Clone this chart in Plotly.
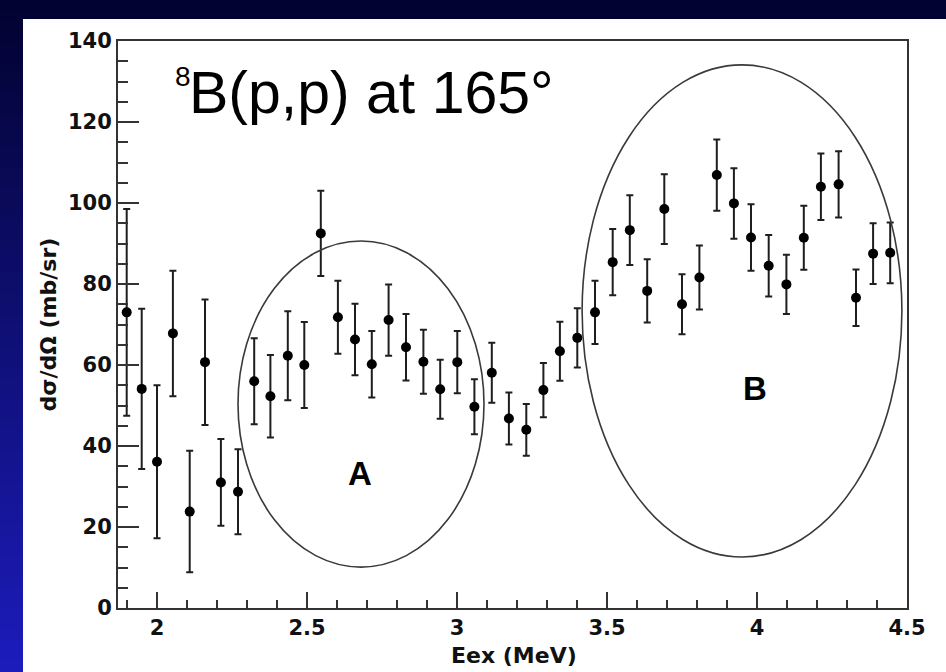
import plotly.graph_objects as go

# Excitation energy (MeV), differential cross section (mb/sr) and its uncertainty
energy_mev = [
    1.899, 1.949, 2.000, 2.053, 2.109, 2.160, 2.213, 2.270, 2.324, 2.378,
    2.436, 2.491, 2.546, 2.603, 2.660, 2.716, 2.772, 2.830, 2.888, 2.944,
    3.001, 3.058, 3.116, 3.173, 3.231, 3.288, 3.343, 3.401, 3.460, 3.519,
    3.576, 3.634, 3.691, 3.750, 3.808, 3.866, 3.923, 3.980, 4.039, 4.098,
    4.156, 4.213, 4.272, 4.330, 4.387, 4.444,
]
cross_section = [
    73.0, 54.1, 36.1, 67.8, 23.8, 60.7, 31.0, 28.7, 56.0, 52.3,
    62.3, 60.0, 92.5, 71.8, 66.3, 60.2, 71.1, 64.4, 60.8, 54.0,
    60.7, 49.7, 58.1, 46.8, 44.0, 53.8, 63.4, 66.7, 73.0, 85.4,
    93.3, 78.3, 98.5, 75.0, 81.6, 106.9, 99.9, 91.5, 84.5, 79.9,
    91.4, 104.0, 104.6, 76.6, 87.5, 87.7,
]
cross_section_err = [
    25.5, 19.8, 18.9, 15.5, 15.0, 15.5, 10.7, 10.5, 10.6, 10.2,
    11.0, 10.6, 10.5, 9.0, 8.8, 8.2, 8.8, 8.2, 7.9, 7.3,
    7.7, 6.8, 7.4, 6.4, 6.4, 6.7, 7.3, 7.3, 7.8, 8.2,
    8.6, 7.8, 8.6, 7.4, 7.9, 8.8, 8.7, 8.2, 7.6, 7.3,
    7.9, 8.2, 8.2, 7.0, 7.5, 7.5,
]

# Resonance regions (energy span, cross-section span) and their labels
region_names = ["A", "B"]
region_e = [(2.27, 3.09), (3.417, 4.483)]
region_cs = [(10.1, 90.6), (12.6, 134.1)]
region_label_pos = [(2.677, 33.3), (3.993, 54.3)]

W, H = 946, 672
ML, MR, MT, MB = 118, 39, 41, 64
PW = W - ML - MR
PH = H - MT - MB


def px_x(px):
    return (px - ML) / PW


def px_y(py):
    return (H - MB - py) / PH


shapes = []

# slide background: vertical navy-to-blue gradient
n_bands = 64
for i in range(n_bands):
    t = (i + 0.5) / n_bands
    top = i * H / n_bands - 0.6
    bot = (i + 1) * H / n_bands + 0.6
    col = f"rgb({round(2 + 26 * t)},{round(2 + 26 * t)},{round(48 + 140 * t)})"
    shapes.append(dict(type="rect", xref="paper", yref="paper",
                       x0=px_x(-2), x1=px_x(W + 2), y0=px_y(bot), y1=px_y(top),
                       fillcolor=col, line_width=0, layer="below"))

# white plot panel
shapes.append(dict(type="rect", xref="paper", yref="paper",
                   x0=px_x(23), x1=px_x(W + 4), y0=px_y(H + 4), y1=px_y(19),
                   fillcolor="white", line_width=0, layer="below"))

# ellipses around the regions
for (e0, e1), (c0, c1) in zip(region_e, region_cs):
    shapes.append(dict(type="circle", xref="x", yref="y",
                       x0=e0, x1=e1, y0=c0, y1=c1,
                       line=dict(color="#3a3a3a", width=1.6), layer="above"))

fig = go.Figure()
fig.add_trace(go.Scatter(
    x=energy_mev, y=cross_section, mode="markers",
    marker=dict(size=10, color="black"),
    error_y=dict(type="data", array=cross_section_err, color="#1e1e1e",
                 thickness=2, width=3.5),
    showlegend=False, hoverinfo="skip",
))

tick_font = dict(family="DejaVu Sans", size=21, color="#111", weight="bold")

annotations = [
    dict(text="8", xref="paper", yref="paper", x=px_x(173), y=px_y(59),
         xanchor="left", yanchor="top", showarrow=False,
         font=dict(family="Liberation Sans", size=28, color="black")),
    dict(text="B(p,p) at 165°", xref="paper", yref="paper", x=px_x(187), y=px_y(58),
         xanchor="left", yanchor="top", showarrow=False,
         font=dict(family="Liberation Sans", size=59, color="black")),
    dict(text="dσ/dΩ (mb/sr)", xref="paper", yref="paper", x=px_x(48), y=0.5,
         xanchor="center", yanchor="middle", textangle=-90, showarrow=False,
         font=dict(family="DejaVu Sans", size=22, color="#111", weight="bold")),
    dict(text="Eex (MeV)", xref="paper", yref="paper", x=px_x(514), y=px_y(655),
         xanchor="center", yanchor="middle", showarrow=False,
         font=dict(family="DejaVu Sans", size=22, color="#111", weight="bold")),
]
for name, (lx, ly) in zip(region_names, region_label_pos):
    annotations.append(dict(text=name, xref="x", yref="y", x=lx, y=ly,
                            xanchor="center", yanchor="middle", showarrow=False,
                            font=dict(family="Liberation Sans", size=33,
                                      color="black", weight="bold")))

fig.update_layout(
    width=W, height=H,
    margin=dict(l=ML, r=MR, t=MT, b=MB, pad=0),
    paper_bgcolor="rgb(4,4,60)",
    plot_bgcolor="rgba(0,0,0,0)",
    shapes=shapes,
    annotations=annotations,
    xaxis=dict(
        range=[1.87, 4.5], tickmode="linear", tick0=0, dtick=0.5,
        ticks="inside", ticklen=16, tickwidth=2, tickcolor="#333",
        minor=dict(dtick=0.1, tick0=0, ticks="inside", ticklen=8,
                   tickwidth=1.5, tickcolor="#333", showgrid=False),
        showline=True, linecolor="#333", linewidth=2, mirror=True,
        showgrid=False, zeroline=False, tickfont=tick_font,
    ),
    yaxis=dict(
        range=[0, 140], tickmode="linear", tick0=0, dtick=20,
        ticks="inside", ticklen=21, tickwidth=2, tickcolor="#333",
        minor=dict(dtick=5, tick0=0, ticks="inside", ticklen=10,
                   tickwidth=1.5, tickcolor="#333", showgrid=False),
        showline=True, linecolor="#333", linewidth=2, mirror=True,
        showgrid=False, zeroline=False, tickfont=tick_font,
    ),
)

fig.write_html("out.html")
